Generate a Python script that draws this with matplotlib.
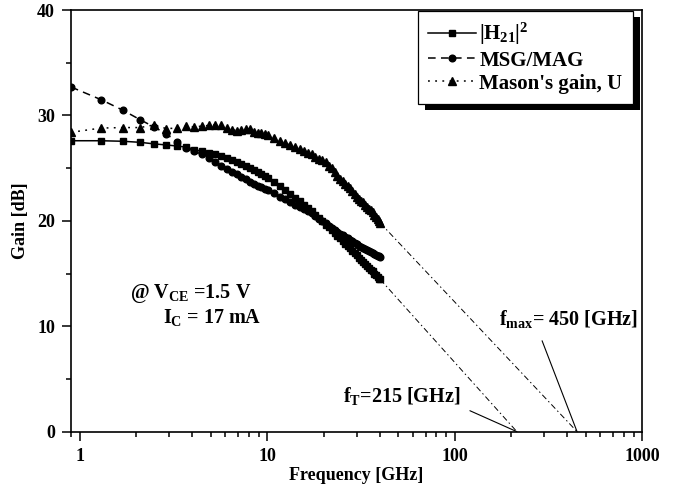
import matplotlib
matplotlib.use('Agg')
import matplotlib.pyplot as plt
from matplotlib.ticker import MultipleLocator, FixedLocator, FixedFormatter
from matplotlib.patches import Rectangle
from matplotlib.transforms import IdentityTransform

plt.rcParams['font.family'] = 'Liberation Serif'
plt.rcParams['font.weight'] = 'bold'
plt.rcParams['font.size'] = 13
plt.rcParams['axes.labelweight'] = 'bold'
plt.rcParams['mathtext.fontset'] = 'custom'
plt.rcParams['mathtext.rm'] = 'Liberation Serif:bold'
plt.rcParams['mathtext.it'] = 'Liberation Serif:bold'
plt.rcParams['mathtext.bf'] = 'Liberation Serif:bold'

# measured frequency points (GHz)
freq = [0.9, 1.3, 1.7, 2.1, 2.5, 2.9, 3.3, 3.7, 4.1, 4.5,
        4.9, 5.3, 5.7, 6.1, 6.5, 6.9, 7.3, 7.7, 8.1, 8.5,
        8.9, 9.3, 9.7, 10.1, 10.9, 11.7, 12.5, 13.3, 14.1, 14.9,
        15.7, 16.5, 17.3, 18.1, 18.9, 19.7, 20.5, 21.3, 22.1, 22.9,
        23.7, 24.5, 25.3, 26.1, 26.9, 27.7, 28.5, 29.3, 30.1, 30.9,
        31.7, 32.5, 33.3, 34.1, 34.9, 35.7, 36.5, 37.3, 38.1, 38.9,
        39.7, 40.1]

# |H21|^2 (dB)
h21 = [27.6, 27.6, 27.55, 27.45, 27.3, 27.2, 27.1, 27.0, 26.75, 26.6,
       26.45, 26.3, 26.15, 25.95, 25.8, 25.6, 25.4, 25.2, 25.0, 24.85,
       24.65, 24.45, 24.25, 24.05, 23.7, 23.3, 22.95, 22.55, 22.2, 21.85,
       21.55, 21.2, 20.9, 20.55, 20.25, 19.95, 19.65, 19.4, 19.1, 18.85,
       18.6, 18.35, 18.1, 17.85, 17.6, 17.4, 17.15, 16.95, 16.75, 16.5,
       16.3, 16.1, 15.95, 15.75, 15.55, 15.35, 15.2, 15.0, 14.85, 14.65,
       14.5, 14.45]

# MSG/MAG (dB)
msg = [32.7, 31.5, 30.5, 29.6, 28.9, 28.25, 27.5, 26.9, 26.6, 26.3,
       26.0, 25.6, 25.2, 24.9, 24.65, 24.4, 24.2, 23.95, 23.7, 23.5,
       23.35, 23.2, 23.05, 22.9, 22.6, 22.3, 22.05, 21.8, 21.55, 21.35,
       21.15, 20.9, 20.7, 20.45, 20.2, 20.0, 19.75, 19.55, 19.35, 19.15,
       18.95, 18.8, 18.65, 18.5, 18.35, 18.2, 18.05, 17.9, 17.8, 17.65,
       17.55, 17.4, 17.3, 17.2, 17.1, 17.0, 16.95, 16.85, 16.8, 16.7,
       16.65, 16.6]

# Mason's unilateral gain U (dB)
mason = [28.4, 28.8, 28.85, 28.85, 29.1, 28.75, 28.8, 29.0, 28.9, 29.0,
         29.05, 29.1, 29.05, 28.8, 28.65, 28.55, 28.6, 28.75, 28.7, 28.45,
         28.35, 28.3, 28.2, 28.1, 27.9, 27.6, 27.4, 27.15, 27.0, 26.8,
         26.65, 26.4, 26.3, 26.1, 25.9, 25.8, 25.55, 25.2, 25.0, 24.6,
         24.3, 24.0, 23.8, 23.5, 23.3, 23.1, 22.8, 22.5, 22.3, 22.1,
         21.9, 21.75, 21.55, 21.35, 21.15, 21.0, 20.8, 20.6, 20.4, 20.2,
         20.0, 19.8]

ft = 215
fmax = 450

fig = plt.figure(figsize=(6.86, 4.91), dpi=100)
ax = fig.add_axes([0.1035, 0.1208, 0.8325, 0.8588])

ax.plot(freq, h21, color='k', lw=1.1, ls='-', marker='s', ms=4.4,
        label=r'$|H_{21}|^2$')
ax.plot(freq, msg, color='k', lw=1.1, ls=(0, (5, 3.5)), marker='o', ms=4.8,
        label='MSG/MAG')
ax.plot(freq, mason, color='k', lw=1.1, ls=(0, (1.2, 3.5)), marker='^', ms=5.2,
        label="Mason's gain, U")

# -20 dB/dec extrapolations
dashdot = (0, (6, 3, 1.5, 3))
ax.plot([freq[-1], ft], [h21[-1], 0], color='k', lw=0.7, ls=dashdot)
ax.plot([freq[-1], fmax], [mason[-1], 0], color='k', lw=0.7, ls=dashdot)

ax.set_xscale('log')
ax.set_xlim(0.9, 1000)
ax.set_ylim(0, 40)
ax.xaxis.set_major_locator(FixedLocator([1, 10, 100, 1000]))
ax.xaxis.set_major_formatter(FixedFormatter(['1', '10', '100', '1000']))
ax.yaxis.set_major_locator(MultipleLocator(10))
ax.yaxis.set_minor_locator(MultipleLocator(5))
ax.tick_params(which='major', direction='out', length=6.5, width=1.1, pad=5)
ax.tick_params(which='minor', direction='out', length=3.3, width=1.1)
ax.tick_params(top=False, right=False, which='both')
for s in ax.spines.values():
    s.set_linewidth(1.2)

ax.set_xlabel('Frequency [GHz]', labelpad=2)
ax.set_ylabel('Gain [dB]', labelpad=6)

big = 14.5
ax.text(1.85, 12.7, r'@ $V_{CE}$ =1.5 V', va='baseline', fontsize=big)
ax.text(2.8, 10.3, r'$I_C$ = 17 mA', va='baseline', fontsize=big)
ax.annotate(r'$f_T$=215 [GHz]', xy=(ft, 0), xytext=(25.5, 2.85),
            textcoords='data', va='baseline', fontsize=big,
            arrowprops=dict(arrowstyle='-', color='k', lw=0.8,
                            relpos=(1, 0), shrinkA=5, shrinkB=0))
ax.annotate(r'$f_{max}$= 450 [GHz]', xy=(fmax, 0), xytext=(172.8, 10.1),
            textcoords='data', va='baseline', fontsize=big,
            arrowprops=dict(arrowstyle='-', color='k', lw=0.8,
                            relpos=(0.28, 0), shrinkA=6, shrinkB=0))

leg = ax.legend(loc='upper right', bbox_to_anchor=(0.984, 0.998),
                borderaxespad=0, fancybox=False, framealpha=1, fontsize=15,
                handlelength=2.3, handletextpad=0.15, borderpad=0.5,
                labelspacing=0.15)
leg.get_frame().set_edgecolor('k')
leg.get_frame().set_linewidth(0.9)

# black drop shadow behind legend box
fig.canvas.draw()
bb = leg.get_frame().get_window_extent(fig.canvas.get_renderer())
shadow = Rectangle((bb.x0 + 7, bb.y0 - 6), bb.width, bb.height,
                   transform=IdentityTransform(), facecolor='k',
                   edgecolor='none', zorder=leg.get_zorder() - 0.1,
                   clip_on=False)
ax.add_artist(shadow)

fig.savefig('out.png', dpi=100)
